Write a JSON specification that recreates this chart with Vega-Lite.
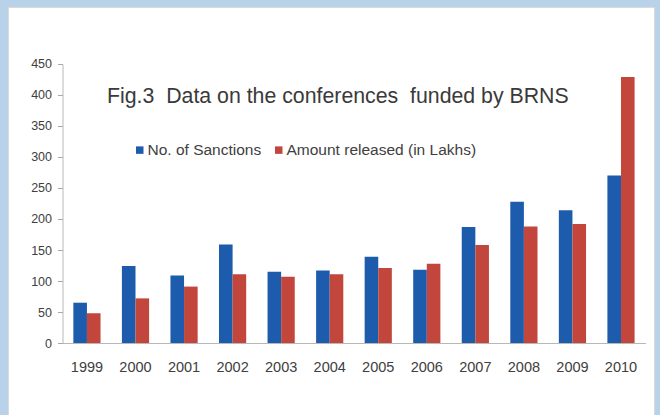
{
  "$schema": "https://vega.github.io/schema/vega-lite/v6.json",
  "width": 646,
  "height": 408,
  "autosize": {"type": "none"},
  "padding": {"left": 8, "top": 7, "right": 6, "bottom": 0},
  "background": "#b8d2e9",
  "config": {
    "font": "Liberation Sans",
    "view": {"fill": "#ffffff", "stroke": "#dadada"}
  },
  "title": {
    "text": "Fig.3\u00a0 Data on the conferences\u00a0 funded by BRNS",
    "orient": "top",
    "anchor": "start",
    "frame": "group",
    "offset": -100,
    "dx": 99,
    "fontSize": 21.3,
    "fontWeight": "normal",
    "color": "#3a3a3a"
  },
  "data": {
    "values": [
      {"year": "1999", "series": "No. of Sanctions", "value": 65},
      {"year": "1999", "series": "Amount released (in Lakhs)", "value": 48},
      {"year": "2000", "series": "No. of Sanctions", "value": 124},
      {"year": "2000", "series": "Amount released (in Lakhs)", "value": 72},
      {"year": "2001", "series": "No. of Sanctions", "value": 109},
      {"year": "2001", "series": "Amount released (in Lakhs)", "value": 91},
      {"year": "2002", "series": "No. of Sanctions", "value": 159},
      {"year": "2002", "series": "Amount released (in Lakhs)", "value": 111},
      {"year": "2003", "series": "No. of Sanctions", "value": 115},
      {"year": "2003", "series": "Amount released (in Lakhs)", "value": 107},
      {"year": "2004", "series": "No. of Sanctions", "value": 117},
      {"year": "2004", "series": "Amount released (in Lakhs)", "value": 111},
      {"year": "2005", "series": "No. of Sanctions", "value": 139},
      {"year": "2005", "series": "Amount released (in Lakhs)", "value": 121},
      {"year": "2006", "series": "No. of Sanctions", "value": 118},
      {"year": "2006", "series": "Amount released (in Lakhs)", "value": 128},
      {"year": "2007", "series": "No. of Sanctions", "value": 187},
      {"year": "2007", "series": "Amount released (in Lakhs)", "value": 158},
      {"year": "2008", "series": "No. of Sanctions", "value": 228},
      {"year": "2008", "series": "Amount released (in Lakhs)", "value": 188},
      {"year": "2009", "series": "No. of Sanctions", "value": 214},
      {"year": "2009", "series": "Amount released (in Lakhs)", "value": 192},
      {"year": "2010", "series": "No. of Sanctions", "value": 270},
      {"year": "2010", "series": "Amount released (in Lakhs)", "value": 429}
    ]
  },
  "mark": {"type": "bar"},
  "encoding": {
    "x": {
      "field": "year",
      "type": "nominal",
      "sort": null,
      "scale": {"paddingInner": 0.44, "paddingOuter": 0.873, "align": 0.771},
      "axis": {
        "title": null,
        "labelAngle": 0,
        "offset": -72,
        "ticks": false,
        "tickSize": 0,
        "labelPadding": 17,
        "labelFontSize": 14.5,
        "labelColor": "#404040",
        "domainColor": "#b8b8b8",
        "domainDash": [0, 54.5, 583, 2000],
        "grid": false
      }
    },
    "xOffset": {
      "field": "series",
      "type": "nominal",
      "sort": ["No. of Sanctions", "Amount released (in Lakhs)"],
      "scale": {"paddingInner": 0, "paddingOuter": 0}
    },
    "y": {
      "field": "value",
      "type": "quantitative",
      "scale": {"domain": [-116.1, 541.9], "nice": false, "zero": false},
      "axis": {
        "title": null,
        "values": [0, 50, 100, 150, 200, 250, 300, 350, 400, 450],
        "offset": -54.5,
        "grid": false,
        "tickSize": 5,
        "tickColor": "#a8a8a8",
        "labelPadding": 6,
        "labelFontSize": 12.5,
        "labelColor": "#404040",
        "domainColor": "#b8b8b8",
        "domainDash": [0, 72, 279, 2000]
      }
    },
    "color": {
      "field": "series",
      "type": "nominal",
      "sort": ["No. of Sanctions", "Amount released (in Lakhs)"],
      "scale": {
        "domain": ["No. of Sanctions", "Amount released (in Lakhs)"],
        "range": ["#1d5cad", "#c2463c"]
      },
      "legend": {
        "title": null,
        "orient": "none",
        "legendX": 124,
        "legendY": 135,
        "direction": "horizontal",
        "symbolType": "square",
        "symbolSize": 56,
        "symbolStrokeWidth": 0,
        "labelFontSize": 15.5,
        "labelLimit": 400,
        "labelColor": "#404040",
        "labelOffset": 0,
        "columnPadding": 9
      }
    }
  }
}
